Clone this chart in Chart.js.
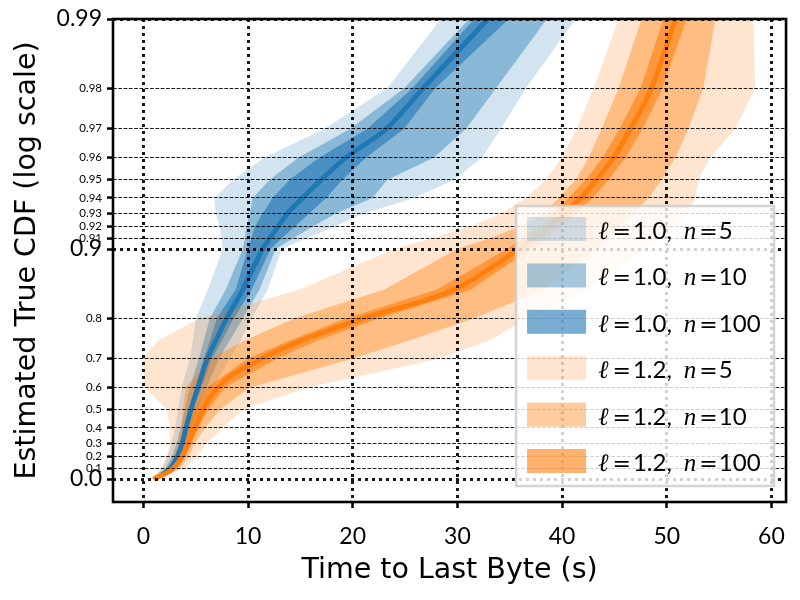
<!DOCTYPE html>
<html>
<head>
<meta charset="utf-8">
<script src="https://cdn.jsdelivr.net/npm/chart.js@4/dist/chart.umd.min.js"></script>
<style>
  body { margin: 0; background: #fff; }
  #wrap { width: 800px; height: 600px; }
</style>
</head>
<body>
<div id="wrap"><canvas id="cdf" width="800" height="600"></canvas></div>
<script>
// CDF levels at which every band edge / median below is sampled
const cdfLevels = [0, 0.1, 0.2, 0.3, 0.4, 0.5, 0.6, 0.7, 0.75, 0.8, 0.85, 0.9, 0.91, 0.92, 0.93, 0.94, 0.95, 0.96, 0.97, 0.98, 0.99];

// l = 1.0 (seconds)
const blueMedian = [1.11, 2.54, 3.24, 3.71, 4.07, 4.54, 5.21, 6.11, 6.92, 7.97, 9.50, 11.40, 12.07, 12.86, 13.78, 15.21, 16.99, 19.37, 23.21, 26.73, 32.92];
const blueN5Lo   = [0.83, 1.75, 2.29, 2.70, 3.02, 3.33, 3.66, 4.45, 4.73, 5.02, 6.16, 7.59, 7.47, 7.30, 6.90, 6.80, 8.57, 11.59, 17.30, 23.30, 28.42];
const blueN5Hi   = [1.50, 3.18, 4.07, 4.70, 5.14, 5.71, 6.67, 8.26, 9.30, 10.35, 11.88, 13.21, 15.56, 18.26, 21.11, 25.88, 29.69, 32.35, 34.16, 36.54, 41.30];
const blueN10Lo  = [0.92, 2.10, 2.73, 3.18, 3.56, 3.97, 4.45, 5.30, 5.78, 6.35, 7.88, 9.50, 9.69, 9.85, 10.16, 10.45, 12.07, 14.83, 19.78, 24.92, 31.12];
const blueN10Hi  = [1.30, 2.92, 3.69, 4.23, 4.64, 5.14, 6.04, 7.21, 8.26, 9.50, 11.11, 12.64, 14.26, 16.16, 18.42, 21.88, 23.30, 27.78, 30.83, 33.69, 38.55];
const blueN100Lo = [1.02, 2.32, 3.02, 3.50, 3.88, 4.29, 4.92, 5.78, 6.35, 7.02, 8.83, 9.97, 10.32, 10.64, 11.40, 12.35, 13.97, 16.83, 21.40, 25.69, 31.60];
const blueN100Hi = [1.21, 2.73, 3.43, 3.94, 4.32, 4.76, 5.56, 6.54, 7.50, 8.64, 10.35, 12.16, 13.18, 14.45, 15.88, 17.47, 19.02, 21.28, 24.92, 27.88, 34.92];

// l = 1.2 (seconds)
const orangeMedian = [0.97, 2.83, 3.66, 4.26, 4.92, 5.69, 7.11, 11.30, 15.11, 21.02, 29.69, 35.88, 37.31, 38.73, 40.16, 41.78, 43.30, 44.92, 46.54, 48.54, 50.83];
const orangeN5Lo   = [0.83, 1.78, 2.26, 2.54, 2.54, 2.26, 0.16, -0.03, 1.40, 5.40, 14.92, 23.97, 27.50, 31.11, 34.26, 36.54, 38.45, 39.97, 41.40, 43.02, 45.41];
const orangeN5Hi   = [1.40, 3.97, 5.09, 6.04, 7.59, 9.40, 15.69, 28.26, 33.02, 36.83, 42.54, 47.78, 49.40, 50.64, 52.07, 52.73, 53.02, 54.16, 56.54, 58.45, 58.26];
const orangeN10Lo  = [0.88, 2.38, 3.02, 3.33, 3.66, 3.78, 4.07, 6.35, 9.69, 14.45, 23.02, 29.97, 33.02, 35.88, 38.26, 39.69, 41.31, 42.54, 43.78, 45.40, 47.59];
const orangeN10Hi  = [1.21, 3.50, 4.29, 4.92, 5.88, 7.30, 10.16, 19.97, 25.40, 31.59, 38.26, 43.21, 44.26, 45.40, 46.83, 48.26, 49.50, 50.83, 52.07, 53.50, 54.64];
const orangeN100Lo = [0.92, 2.54, 3.33, 3.81, 4.29, 4.83, 6.07, 9.97, 13.97, 19.40, 28.07, 34.73, 36.26, 37.69, 39.11, 40.64, 42.26, 43.88, 45.50, 47.50, 49.69];
const orangeN100Hi = [1.07, 3.18, 3.97, 4.61, 5.24, 6.19, 7.78, 12.73, 16.64, 22.54, 31.30, 37.02, 38.45, 39.88, 41.31, 42.93, 44.45, 46.07, 47.69, 49.59, 51.88];

// axis ticks
const xTickValues = [0, 10, 20, 30, 40, 50, 60];
const yTickValues = [0, 0.1, 0.2, 0.3, 0.4, 0.5, 0.6, 0.7, 0.8, 0.9, 0.91, 0.92, 0.93, 0.94, 0.95, 0.96, 0.97, 0.98, 0.99];
const yTickLabels = ['0.0', '0.1', '0.2', '0.3', '0.4', '0.5', '0.6', '0.7', '0.8', '0.9', '0.91', '0.92', '0.93', '0.94', '0.95', '0.96', '0.97', '0.98', '0.99'];
const yMajorLabels = ['0.0', '0.9', '0.99'];

// legend
const legendEll = ['1.0', '1.0', '1.0', '1.2', '1.2', '1.2'];
const legendN = ['5', '10', '100', '5', '10', '100'];

const BLUE = '31,119,180';
const ORANGE = '255,127,14';
const bandAlpha = { n5: 0.2, n10: 0.4, n100: 0.6 };
const GRID = 'rgba(0,0,0,0.9)';

// "log scale" of the CDF: -log10(1 - p)
const tf = p => -Math.log10(1 - p);
const toPts = xs => xs.map((x, i) => ({ x: x, y: tf(cdfLevels[i]) }));
const bandPts = (lo, hi) => toPts(lo).concat(toPts(hi).reverse());

function bandSet(lo, hi, rgb, alpha) {
  return {
    data: bandPts(lo, hi),
    fill: 'shape',
    backgroundColor: 'rgba(' + rgb + ',' + alpha + ')',
    borderColor: 'transparent',
    borderWidth: 0,
    pointRadius: 0
  };
}

function medianSet(xs, color) {
  return {
    data: toPts(xs),
    fill: false,
    borderColor: color,
    borderWidth: 4.8,
    pointRadius: 0,
    cubicInterpolationMode: 'monotone'
  };
}

const isMajorY = i => i !== undefined && yMajorLabels.includes(yTickLabels[i]);

// frame around the plot + the boxed legend in the lower right
const frameAndLegend = {
  id: 'frameAndLegend',
  afterDraw(chart) {
    const ctx = chart.ctx;
    const a = chart.chartArea;
    ctx.save();
    ctx.strokeStyle = '#000';
    ctx.lineWidth = 2.6;
    ctx.strokeRect(a.left, a.top, a.right - a.left, a.bottom - a.top);

    const w = 258, h = 280;
    const lx = a.right - 12 - w, ly = a.bottom - 16 - h;
    ctx.fillStyle = 'rgba(255,255,255,0.8)';
    ctx.fillRect(lx, ly, w, h);
    ctx.strokeStyle = 'rgba(204,204,204,0.85)';
    ctx.lineWidth = 2.5;
    ctx.strokeRect(lx, ly, w, h);

    const alphas = [bandAlpha.n5, bandAlpha.n10, bandAlpha.n100];
    const piece = (txt, font, x, y) => {
      ctx.font = font;
      ctx.fillText(txt, x, y);
      return x + ctx.measureText(txt).width;
    };
    legendEll.forEach((ell, i) => {
      const cy = ly + 23 + i * 46.4;
      ctx.fillStyle = 'rgba(' + (i < 3 ? BLUE : ORANGE) + ',' + alphas[i % 3] + ')';
      ctx.fillRect(lx + 11, cy - 12, 59, 24);

      ctx.fillStyle = '#000';
      ctx.textBaseline = 'alphabetic';
      const by = cy + 10;
      let tx = lx + 82;
      tx = piece('\u2113', 'italic 25px "Liberation Serif"', tx, by) + 4;
      tx = piece('=', '22px "DejaVu Sans"', tx, by) + 2;
      tx = piece(ell + ',', '24px Lato', tx, by) + 12;
      tx = piece('n', 'italic 25px "Liberation Serif"', tx, by) + 3;
      tx = piece('=', '22px "DejaVu Sans"', tx, by) + 1;
      piece(legendN[i], '24px Lato', tx, by);
    });
    ctx.restore();
  }
};

Chart.defaults.color = '#000';
Chart.defaults.font.family = 'Lato';

new Chart(document.getElementById('cdf'), {
  type: 'line',
  data: {
    datasets: [
      medianSet(orangeMedian, '#ff7f0e'),
      medianSet(blueMedian, '#1f77b4'),
      bandSet(orangeN100Lo, orangeN100Hi, ORANGE, bandAlpha.n100),
      bandSet(orangeN10Lo, orangeN10Hi, ORANGE, bandAlpha.n10),
      bandSet(orangeN5Lo, orangeN5Hi, ORANGE, bandAlpha.n5),
      bandSet(blueN100Lo, blueN100Hi, BLUE, bandAlpha.n100),
      bandSet(blueN10Lo, blueN10Hi, BLUE, bandAlpha.n10),
      bandSet(blueN5Lo, blueN5Hi, BLUE, bandAlpha.n5)
    ]
  },
  options: {
    responsive: false,
    animation: false,
    events: [],
    layout: { padding: { top: 19, right: 12, left: 0, bottom: 0 } },
    plugins: {
      legend: { display: false },
      tooltip: { enabled: false }
    },
    scales: {
      x: {
        type: 'linear',
        min: -2.9,
        max: 61.4,
        afterBuildTicks: s => { s.ticks = xTickValues.map(v => ({ value: v })); },
        afterFit: s => { s.height = 98; },
        ticks: { autoSkip: false, maxRotation: 0, padding: 15, font: { size: 23 } },
        grid: {
          z: 1,
          color: GRID,
          lineWidth: 3,
          tickLength: 6,
          tickWidth: 2.5,
          tickColor: '#000',
          tickBorderDash: []
        },
        border: { display: false, dash: [3, 4] },
        title: {
          display: true,
          text: 'Time to Last Byte (s)',
          font: { family: 'DejaVu Sans', size: 28.5 },
          padding: { top: 0, bottom: 12 }
        }
      },
      y: {
        type: 'linear',
        min: -0.1,
        max: 2,
        afterBuildTicks: s => { s.ticks = yTickValues.map(p => ({ value: tf(p) })); },
        afterFit: s => { s.width = 113; },
        ticks: {
          autoSkip: false,
          padding: 5,
          callback: (v, i) => yTickLabels[i],
          font: c => ({ size: isMajorY(c.index) ? 23 : 11.5 })
        },
        grid: {
          z: 1,
          color: GRID,
          lineWidth: c => isMajorY(c.index) ? 3 : 1.1,
          tickLength: 6,
          tickWidth: 2.5,
          tickColor: '#000',
          tickBorderDash: []
        },
        border: { display: false, dash: c => isMajorY(c.index) ? [3, 4] : [3.7, 1.6] },
        title: {
          display: true,
          text: 'Estimated True CDF (log scale)',
          font: { family: 'DejaVu Sans', size: 28.5 },
          padding: { top: 10, bottom: 0 }
        }
      }
    }
  },
  plugins: [frameAndLegend]
});
</script>
</body>
</html>
